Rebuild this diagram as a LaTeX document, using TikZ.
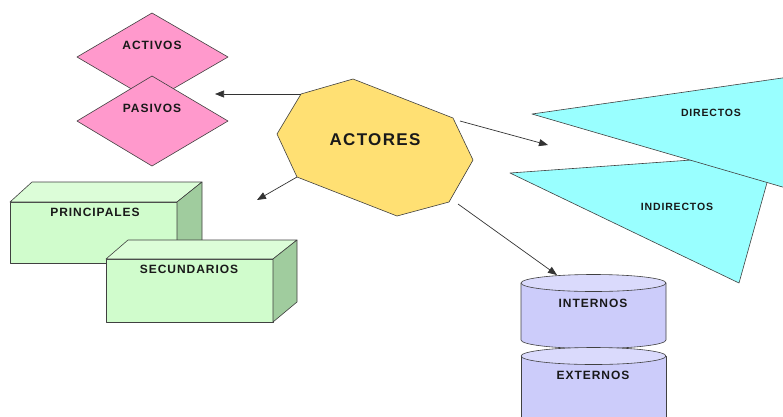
\documentclass[tikz,border=0pt]{standalone}
\usepackage{fontspec}
\newfontfamily\lblfont[LetterSpace=8]{Liberation Sans}
\usetikzlibrary{arrows.meta}
\definecolor{rosa}{RGB}{255,153,204}
\definecolor{amarillo}{RGB}{255,224,115}
\definecolor{celeste}{RGB}{153,255,255}
\definecolor{verdeclaro}{RGB}{208,252,204}
\definecolor{verdetapa}{RGB}{220,253,216}
\definecolor{verdeoscuro}{RGB}{160,204,158}
\definecolor{lila}{RGB}{204,204,250}
\definecolor{lilatapa}{RGB}{218,218,252}
\begin{document}
\begin{tikzpicture}
[x=1pt,y=-1pt,
  shapedecorate/.style={draw=black!75,line width=0.6pt,line join=round},
  textdecorate/.style={inner sep=0pt,text=black!90,
    font=\lblfont\fontsize{12}{14}\selectfont\bfseries},
  smalltext/.style={textdecorate,font=\lblfont\fontsize{10.5}{12}\selectfont\bfseries},
  bigtext/.style={textdecorate,font=\lblfont\fontsize{17}{20}\selectfont\bfseries},
  linedecorate/.style={-{Triangle[length=9pt,width=7pt]},line width=0.7pt,draw=black!80}]
\useasboundingbox (0,0) rectangle (783,416);
\clip (0,0) rectangle (783,416);
%% diamonds
\filldraw[shapedecorate,fill=rosa] (152,13) -- (228,57) -- (152,101) -- (77,57) -- cycle;
\filldraw[shapedecorate,fill=rosa] (152,76) -- (228,121) -- (152,166) -- (77,121) -- cycle;
%% octagon
\foreach \nodename/\x/\y in {o1/353/79, o2/453/118, o3/473/160, o4/449/202,
  o5/397/216, o6/297/177, o7/277/134, o8/301/94} {
  \coordinate (\nodename) at (\x,\y);
}
\filldraw[shapedecorate,fill=amarillo] (o1) -- (o2) -- (o3) -- (o4) -- (o5) -- (o6) -- (o7) -- (o8) -- cycle;
%% triangles
\filldraw[shapedecorate,fill=celeste] (510,173) -- (775,154) -- (739,283) -- cycle;
\filldraw[shapedecorate,fill=celeste] (532,114) -- (810,74) -- (810,195) -- cycle;
%% boxes
\filldraw[shapedecorate,fill=verdeclaro] (10,202) rectangle (177,263);
\filldraw[shapedecorate,fill=verdetapa] (10,202) -- (32,182) -- (202,182) -- (177,202) -- cycle;
\filldraw[shapedecorate,fill=verdeoscuro] (177,202) -- (202,182) -- (202,243) -- (177,263) -- cycle;
\filldraw[shapedecorate,fill=verdeclaro] (106,259) rectangle (273,322);
\filldraw[shapedecorate,fill=verdetapa] (106,259) -- (128,240) -- (297,240) -- (273,259) -- cycle;
\filldraw[shapedecorate,fill=verdeoscuro] (273,259) -- (297,240) -- (297,302) -- (273,322) -- cycle;
%% cylinders
\filldraw[shapedecorate,fill=lila] (521,283) -- (521,340)
  arc[start angle=180,end angle=360,x radius=72.5pt,y radius=8.5pt] -- (666,283) -- cycle;
\filldraw[shapedecorate,fill=lilatapa] (593.5,283) ellipse [x radius=72.5pt,y radius=8.5pt];
\filldraw[shapedecorate,fill=lila] (521,356) -- (521,440) -- (666,440) -- (666,356) -- cycle;
\filldraw[shapedecorate,fill=lilatapa] (593.5,356) ellipse [x radius=72.5pt,y radius=8.5pt];
%% labels
\foreach \nodename/\x/\y/\txt in {activos/152/45/ACTIVOS, pasivos/152/108/PASIVOS,
  principales/95/212/PRINCIPALES, secundarios/189/269/SECUNDARIOS,
  internos/593/303/INTERNOS, externos/593/375/EXTERNOS} {
  \node (\nodename) at (\x,\y) [textdecorate] {\txt};
}
\node (directos) at (711,113) [smalltext] {DIRECTOS};
\node (indirectos) at (677,207) [smalltext] {INDIRECTOS};
\node (actores) at (375,140) [bigtext] {ACTORES};
%% arrows
\foreach \nodename/\x/\y in {s1/301/94, t1/215/94, s2/297/177, t2/257/200,
  s3/460/121, t3/548/145, s4/458/204, t4/557/275} {
  \coordinate (\nodename) at (\x,\y);
}
\path
\foreach \startnode/\endnode in {s1/t1, s2/t2, s3/t3, s4/t4} {
  (\startnode) edge[linedecorate] (\endnode)
};
\end{tikzpicture}
\end{document}
